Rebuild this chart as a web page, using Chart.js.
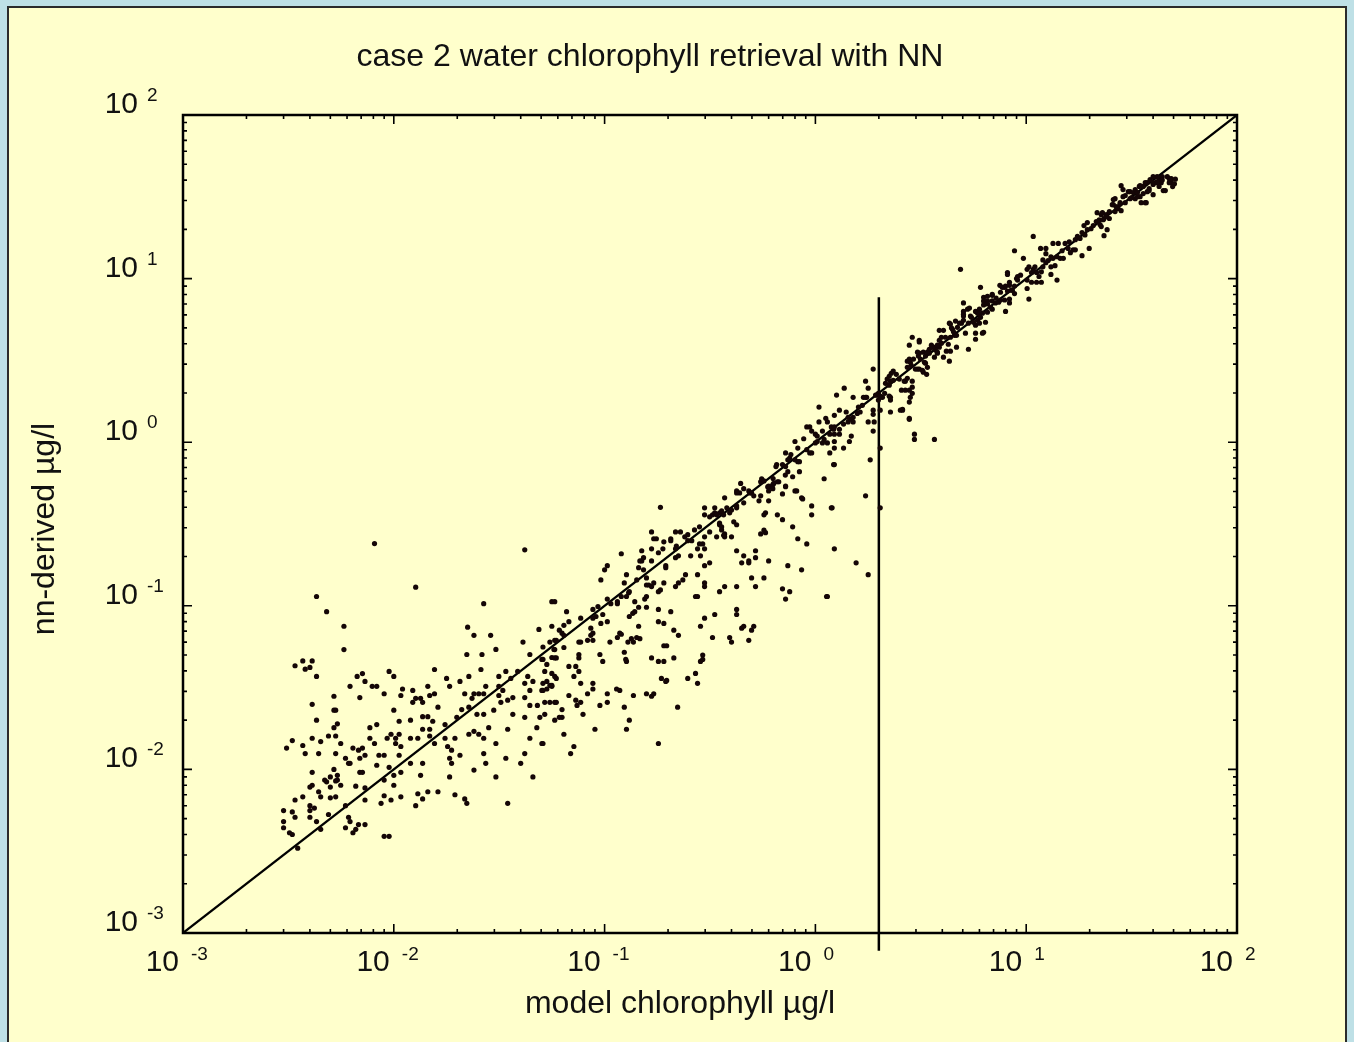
<!DOCTYPE html>
<html>
<head>
<meta charset="utf-8">
<title>case 2 water chlorophyll retrieval with NN</title>
<script src="https://cdn.jsdelivr.net/npm/chart.js@4.4.1/dist/chart.umd.min.js"></script>
<style>
  html, body { margin: 0; padding: 0; background: #bee0e6; overflow: hidden; }
  canvas { display: block; }
</style>
</head>
<body>
<canvas id="chlChart" width="1354" height="1042"></canvas>
<script>
// ---------------------------------------------------------------------
// Axis ticks (both axes are log10, 1e-3 .. 1e2)
// ---------------------------------------------------------------------
const tickValues = [0.001, 0.01, 0.1, 1, 10, 100];
const tickExponents = ["-3", "-2", "-1", "0", "1", "2"];
const minorMultipliers = [2, 3, 4, 5, 6, 7, 8, 9];

// 1:1 line and the vertical marker at 2 µg/l
const oneToOne = [[0.001, 0.001], [100, 100]];
const markerLine = [[2, 0.00078], [2, 7.7]];

// ---------------------------------------------------------------------
// Scatter: [model chlorophyll, nn-derived] in µg/l
// ---------------------------------------------------------------------
const lowRange = [
  [0.0058,0.075],[0.0058,0.054],[0.0034,0.043],[0.0037,0.046],[0.0038,0.041],[0.0040,0.042],[0.0041,0.046],[0.0043,0.037],
  [0.0033,0.015],[0.0031,0.0135],[0.0037,0.014],[0.0038,0.0125],[0.0041,0.0155],[0.0041,0.025],[0.0043,0.020],[0.0044,0.0125],
  [0.0045,0.0148],[0.0049,0.016],[0.0052,0.028],[0.0052,0.023],[0.0053,0.023],[0.0054,0.019],[0.0052,0.018],[0.0053,0.016],
  [0.0056,0.0144],[0.0053,0.0125],[0.0041,0.0096],[0.0041,0.0080],[0.0040,0.0078],[0.0037,0.0068],[0.0034,0.0065],[0.0030,0.0056],
  [0.0033,0.0055],[0.0034,0.0051],[0.0030,0.0048],[0.0030,0.0044],[0.0032,0.0041],[0.0033,0.0040],[0.0035,0.0033],[0.0040,0.0056],
  [0.0040,0.0060],[0.0042,0.0058],[0.0040,0.0051],[0.0043,0.0048],[0.0045,0.0043],[0.0044,0.0073],[0.0045,0.0068],[0.0047,0.0086],
  [0.0048,0.0084],[0.0050,0.0090],[0.0052,0.010],[0.0054,0.0092],[0.0054,0.0086],[0.0056,0.0080],[0.0053,0.0085],[0.0050,0.0078],
  [0.0050,0.0067],[0.0053,0.0068],[0.0049,0.0053],[0.0059,0.0060],[0.0061,0.0051],[0.0062,0.0048],[0.0059,0.0044],[0.0064,0.0041],
  [0.0066,0.0043],[0.0068,0.0046],[0.0073,0.0046],[0.0066,0.0079],[0.0073,0.0077],[0.0069,0.0096],[0.0071,0.0096],[0.0059,0.0117],
  [0.0061,0.0109],[0.0062,0.0109],[0.0064,0.0135],[0.0068,0.0131],[0.0071,0.0135],[0.0073,0.0122],[0.0069,0.0117],[0.0077,0.0155],
  [0.0077,0.018],[0.0081,0.0144],[0.0083,0.0188],[0.0085,0.0122],[0.0090,0.0122],[0.0083,0.0106],[0.0095,0.0103],[0.0093,0.0155],
  [0.0097,0.0164],[0.0102,0.0155],[0.0106,0.0164],[0.0102,0.0144],[0.0108,0.0138],[0.0106,0.0122],[0.0100,0.0092],[0.0100,0.0080],
  [0.0090,0.0086],[0.0073,0.0065],[0.0090,0.0069],[0.0087,0.0062],[0.0097,0.0065],[0.0108,0.0068],[0.0120,0.0109],[0.0108,0.0096],
  [0.0120,0.0155],[0.0130,0.0155],[0.0120,0.020],[0.0106,0.0197],[0.0100,0.023],[0.0137,0.021],[0.0145,0.021],[0.0137,0.0176],
  [0.0148,0.0176],[0.0153,0.0197],[0.0148,0.016],[0.0156,0.0144],[0.0137,0.0109],[0.0134,0.0092],[0.0137,0.0066],[0.0127,0.0060],
  [0.0130,0.0071],[0.0145,0.0073],[0.0162,0.0073],[0.0090,0.0039],[0.0095,0.0039],[0.0175,0.0188],[0.0162,0.024],[0.0175,0.0155],
  [0.018,0.0138],[0.0188,0.0131],[0.0206,0.0122],[0.0184,0.0117],[0.0188,0.0109],[0.0184,0.0090],[0.0195,0.0155],[0.0195,0.0070],
  [0.0217,0.0066],[0.0222,0.0062],[0.024,0.0099],[0.0227,0.0164],[0.024,0.0171],[0.0253,0.0164],[0.0267,0.0155],[0.0282,0.018],
  [0.0273,0.0109],[0.0267,0.0125],[0.0305,0.0144],[0.0305,0.0090],[0.0347,0.0062],[0.034,0.0117],[0.0347,0.0176],[0.0367,0.0217],
  [0.0418,0.0208],[0.040,0.0109],[0.0442,0.0155],[0.0418,0.0125],[0.0457,0.0090],[0.0504,0.0144],[0.0477,0.018],[0.0493,0.0208],
  [0.052,0.0217],[0.058,0.020],[0.0442,0.0246],[0.048,0.0246],[0.052,0.0257],[0.055,0.0257],[0.058,0.0257],[0.0418,0.0275],
  [0.0367,0.0275],[0.0347,0.0265],[0.0315,0.0283],[0.0322,0.0257],[0.0298,0.023],[0.0248,0.0217],[0.0267,0.0217],[0.0227,0.024],
  [0.021,0.0232],[0.0199,0.0208],[0.0315,0.0322],[0.0329,0.0304],[0.034,0.0397],[0.0315,0.037],[0.0359,0.036],[0.0387,0.0397],
  [0.0418,0.0336],[0.0432,0.037],[0.0457,0.0345],[0.0442,0.0304],[0.0504,0.0304],[0.0532,0.0345],[0.0562,0.0322],[0.052,0.0397],
  [0.0504,0.047],[0.0532,0.0438],[0.0562,0.0483],[0.0575,0.0541],[0.055,0.060],[0.0442,0.0504],[0.0259,0.0408],[0.0227,0.037],
  [0.0206,0.0345],[0.0184,0.0322],[0.0178,0.036],[0.0156,0.0408],[0.0145,0.0322],[0.0123,0.0304],[0.0110,0.031],[0.0090,0.029],
  [0.0083,0.0322],[0.0079,0.0322],[0.0073,0.0345],[0.0067,0.037],[0.0071,0.0385],[0.0062,0.0322],[0.0069,0.0275],[0.0095,0.0397],
  [0.0100,0.037],[0.0127,0.0272],[0.0134,0.0272],[0.0123,0.0257],[0.0137,0.0257],[0.0156,0.029],[0.0148,0.0283],[0.0108,0.0283],
  [0.0217,0.029],[0.024,0.029],[0.0253,0.029],[0.0267,0.029],[0.0273,0.0322],[0.0235,0.0272],[0.0288,0.066],[0.0222,0.0504],
  [0.0262,0.0504],[0.0305,0.0541],[0.0224,0.074],[0.024,0.066],[0.041,0.060],[0.0488,0.0717],[0.0562,0.075],
  [0.0081,0.24],[0.0127,0.13],[0.0418,0.22],[0.0043,0.114],[0.0048,0.092],[0.0267,0.103],[0.0562,0.106],[0.058,0.106],
  [0.061,0.071],[0.051,0.056],[0.058,0.054],[0.059,0.048],
  [0.066,0.092],[0.0641,0.076],[0.0628,0.068],[0.0641,0.066],[0.058,0.0615],[0.059,0.0615],[0.0677,0.080],[0.077,0.084],
  [0.088,0.095],[0.093,0.099],[0.088,0.084],[0.091,0.086],[0.086,0.073],[0.088,0.068],[0.096,0.078],[0.098,0.0885],
  [0.086,0.066],[0.083,0.0615],[0.088,0.0615],[0.0755,0.060],[0.077,0.060],[0.0641,0.0556],[0.058,0.048],[0.051,0.047],
  [0.0562,0.0386],[0.058,0.037],[0.059,0.036],[0.051,0.0336],[0.055,0.0326],[0.0562,0.0326],[0.051,0.0304],[0.0532,0.031],
  [0.0677,0.0426],[0.073,0.0426],[0.0755,0.0397],[0.0715,0.037],[0.0755,0.0504],[0.0755,0.048],[0.077,0.0336],[0.083,0.029],
  [0.088,0.0336],[0.088,0.031],[0.095,0.0504],[0.098,0.0457],[0.095,0.0246],[0.0677,0.0283],[0.073,0.0265],[0.074,0.0246],
  [0.077,0.0257],[0.079,0.0217],[0.0628,0.0232],[0.061,0.0208],[0.0628,0.0208],[0.059,0.0257],[0.0641,0.0164],[0.090,0.0176],
  [0.051,0.0144],[0.0715,0.0138],[0.069,0.0125],[0.096,0.144]
];

const midRange = [
  [0.184,0.40],[0.442,0.56],[0.457,0.52],[0.488,0.49],[0.55,0.47],[0.55,0.573],[0.60,0.54],[0.628,0.55],
  [0.67,0.573],[0.722,0.54],[0.698,0.483],[0.80,0.504],[0.815,0.504],[0.86,0.457],[0.96,0.408],[0.96,0.36],
  [1.20,0.397],[1.23,0.223],[1.13,0.114],[0.825,0.257],[0.91,0.239],[0.78,0.304],[0.66,0.36],[0.58,0.37],
  [0.57,0.36],[0.60,0.438],[0.55,0.275],[0.57,0.29],[0.58,0.28],[0.60,0.188],[0.74,0.176],[0.86,0.166],
  [0.698,0.127],[0.722,0.110],[0.755,0.122],[0.57,0.148],[0.52,0.217],[0.52,0.197],[0.483,0.188],[0.483,0.183],
  [0.447,0.183],[0.457,0.202],[0.423,0.217],[0.498,0.148],[0.52,0.131],[0.423,0.131],[0.423,0.095],[0.423,0.0885],
  [0.371,0.131],[0.351,0.122],[0.333,0.0885],[0.298,0.084],[0.285,0.075],[0.325,0.064],[0.392,0.064],[0.40,0.060],
  [0.447,0.073],[0.457,0.075],[0.51,0.075],[0.498,0.071],[0.483,0.0615],[0.298,0.138],[0.298,0.131],[0.276,0.155],
  [0.27,0.114],[0.276,0.114],[0.315,0.183],[0.298,0.176],[0.285,0.202],[0.298,0.223],[0.276,0.223],[0.292,0.239],
  [0.256,0.202],[0.242,0.155],[0.235,0.144],[0.224,0.138],[0.217,0.131],[0.206,0.092],[0.213,0.071],[0.224,0.066],
  [0.213,0.048],[0.191,0.057],[0.197,0.057],[0.18,0.0457],[0.191,0.0457],[0.186,0.036],[0.197,0.035],[0.248,0.036],
  [0.27,0.0386],[0.276,0.0336],[0.285,0.0457],[0.292,0.050],[0.292,0.047],[0.18,0.080],[0.191,0.078],[0.18,0.095],
  [0.167,0.048],[0.158,0.029],[0.167,0.028],[0.171,0.029],[0.145,0.075],[0.137,0.060],[0.142,0.064],[0.147,0.063],
  [0.134,0.063],[0.129,0.060],[0.124,0.052],[0.127,0.0457],[0.126,0.047],[0.118,0.068],[0.115,0.064],[0.120,0.067],
  [0.131,0.086],[0.136,0.090],[0.139,0.092],[0.139,0.106],[0.145,0.098],[0.158,0.098],[0.155,0.110],[0.158,0.114],
  [0.158,0.134],[0.162,0.134],[0.167,0.131],[0.184,0.125],[0.18,0.122],[0.191,0.138],[0.171,0.138],[0.158,0.148],
  [0.153,0.166],[0.124,0.138],[0.127,0.155],[0.130,0.120],[0.131,0.122],[0.127,0.114],[0.120,0.114],[0.115,0.106],
  [0.115,0.103],[0.107,0.103],[0.103,0.110],[0.103,0.080],[0.106,0.060],[0.100,0.166],[0.103,0.176],[0.120,0.208],
  [0.142,0.144],[0.147,0.188],[0.150,0.188],[0.153,0.197],[0.145,0.171],[0.167,0.188],[0.150,0.217],[0.167,0.223],
  [0.18,0.211],[0.189,0.223],[0.191,0.246],[0.171,0.257],[0.176,0.257],[0.167,0.283],[0.195,0.176],[0.195,0.171],
  [0.206,0.25],[0.206,0.257],[0.217,0.197],[0.224,0.202],[0.217,0.223],[0.219,0.232],[0.217,0.283],[0.229,0.283],
  [0.24,0.264],[0.248,0.272],[0.248,0.25],[0.259,0.25],[0.267,0.291],[0.282,0.304],[0.298,0.36],[0.298,0.397],
  [0.298,0.264],[0.315,0.283],[0.315,0.35],[0.325,0.36],[0.333,0.37],[0.333,0.397],[0.351,0.37],[0.359,0.381],
  [0.351,0.313],[0.359,0.291],[0.371,0.275],[0.371,0.264],[0.34,0.264],[0.371,0.457],[0.392,0.37],[0.40,0.385],
  [0.423,0.397],[0.40,0.264],[0.423,0.313],[0.41,0.326],[0.457,0.426],[0.437,0.49],[0.423,0.504],[0.483,0.504],
  [0.498,0.49],[0.103,0.029],[0.114,0.031],[0.118,0.0304],[0.103,0.0257],[0.124,0.024],[0.137,0.0283],[0.127,0.0176],
  [0.131,0.020],[0.222,0.024],[0.195,0.0345],[0.18,0.0144],
  [1.37,2.14],[1.26,1.94],[1.04,1.64],[1.51,1.88],[1.69,1.88],[1.73,1.88],[1.78,2.14],[1.73,2.36],
  [1.82,0.78],[1.73,0.47],[1.78,0.155],[1.56,0.183],[1.14,0.114],[1.10,0.598],[1.22,0.73],[1.36,0.92],
  [1.17,0.86],[1.23,0.92],[1.14,0.99],[1.08,0.99],[1.10,1.04],[1.17,1.12],[1.23,1.12],[1.23,1.01],
  [1.30,1.20],[1.30,1.12],[1.36,1.29],[1.43,1.33],[1.48,1.38],[1.51,1.33],[1.51,1.42],[1.58,1.50],
  [1.60,1.64],[1.63,1.53],[1.67,1.68],[1.40,1.53],[1.43,1.42],[1.30,1.57],[1.23,1.46],[1.14,1.33],
  [1.19,1.24],[1.22,1.20],[1.04,1.33],[1.0,1.12],[1.02,1.09],[0.96,1.17],[0.91,1.24],[0.94,1.24],
  [1.08,1.17],[1.48,1.09],[1.45,1.01],[0.80,1.01],[0.825,0.92],[0.91,0.90],[0.94,0.86],[0.96,0.86],
  [1.0,0.99],[1.02,1.01],[0.722,0.86],[0.755,0.80],[0.74,0.78],[0.765,0.84],[0.80,0.78],[0.825,0.76],
  [0.84,0.76],[0.698,0.73],[0.722,0.71],[0.655,0.73],[0.65,0.71],[0.74,0.66],[0.84,0.66],[0.78,0.615],
  [0.66,0.573],[0.634,0.56],[0.614,0.534],[0.556,0.598],[0.57,0.58],[0.594,0.534],[0.60,0.504],[0.628,0.52],
  [0.722,0.534],[0.87,0.45],[0.698,0.336],[0.423,0.49],[0.51,0.47],[0.54,0.438],[0.423,0.408],[0.367,0.36],
  [0.38,0.397],[0.34,0.36],[0.351,0.32],[0.359,0.304],[0.367,0.27],[0.282,0.239],[1.93,1.94],[1.99,1.99],
  [1.88,2.80],[1.99,1.81],[1.95,1.94],[1.88,1.57],[1.88,1.48],[1.78,1.33],[1.90,1.33],[1.88,1.17],
  [1.75,1.88],[1.19,0.397],[1.23,0.73],[1.23,1.24],[1.12,1.40],[0.88,1.05],[0.72,0.63],[0.63,0.60]
];

const highRange = [
  [2.15,2.29],[2.27,2.36],[2.34,2.39],[2.08,1.88],[2.27,1.88],[2.27,1.81],[2.67,2.36],[2.88,2.36],
  [2.79,2.08],[2.88,1.99],[2.79,1.76],[2.53,1.57],[2.59,1.57],[2.27,1.53],[2.79,1.38],[2.95,1.12],
  [2.95,1.04],[3.67,1.04],[2.03,1.57],[2.03,1.88],[2.03,0.92],[2.03,0.397],[2.03,1.91],
  [9.0,10.0],[9.1,9.8],[7.5,9.1],[7.9,8.85],[8.33,9.1],[8.5,8.5],[8.33,7.5],[7.9,7.4],
  [8.33,7.1],[6.28,7.69],[6.55,7.8],[6.9,7.9],[6.28,7.3],[6.55,7.3],[6.9,7.3],[7.98,6.3],
  [5.04,7.1],[5.04,6.3],[5.04,6.05],[5.27,6.5],[5.44,5.9],[5.75,6.3],[6.0,6.5],[6.2,6.15],
  [5.88,5.56],[6.07,5.8],[6.41,5.41],[5.75,5.19],[6.28,4.7],[5.75,4.26],[5.32,3.7],[4.62,5.5],
  [4.93,5.34],[4.72,5.04],[4.37,5.27],[4.47,4.9],[4.57,4.5],[3.87,4.83],[4.05,4.83],[4.14,4.38],
  [4.37,4.38],[4.67,3.81],[3.96,4.03],[3.87,3.81],[3.71,3.66],[3.79,3.5],[4.27,3.97],[4.37,3.6],
  [4.05,3.31],[4.32,3.13],[3.55,3.92],[3.63,3.81],[3.47,3.7],[2.88,4.38],[2.79,3.92],[3.11,4.2],
  [3.25,3.55],[3.33,3.36],[3.05,3.55],[3.15,3.22],[3.33,3.04],[3.4,2.87],[3.11,2.80],[3.25,2.68],
  [3.37,2.60],[2.79,3.22],[2.85,2.95],[2.73,2.87],[2.73,3.13],[2.64,2.36],[2.73,2.46],[2.88,2.17],
  [2.82,1.88],[2.56,2.08],[2.67,2.08],[2.29,2.64],[2.34,2.72],[2.24,2.53],[2.42,2.60],[2.50,2.43],
  [2.19,2.43],[2.24,2.23],[2.13,1.99],[2.24,1.91],
  [4.52,4.73],[4.67,4.5],[7.7,8.85],[9.1,10.3],[5.04,5.9],[3.47,3.5],[3.79,3.55],[3.08,3.36],
  [3.29,3.08],[3.05,2.80],[3.11,4.1],
  [4.88,11.4],[10.8,18.1],[8.8,14.8],[6.07,8.85],[9.7,13.3],[28.2,37.0],[14.0,9.8],[10.3,7.5],
  [2.59,1.59],[2.79,1.40],[3.22,2.75],[2.98,2.80],[2.82,3.08],[2.92,3.22],[3.11,3.50],[3.4,3.55],
  [3.59,3.81],[3.79,3.92],[3.87,4.20],[3.67,3.31],[4.18,3.60],[3.96,4.38],[4.32,5.34],[4.42,5.0],
  [4.83,5.34],[5.04,5.56],[5.15,4.64],[5.75,4.64],[6.2,4.64],[5.32,5.34],[5.5,5.8],[5.62,5.41],
  [5.38,6.6],[5.88,6.15],[6.28,6.9],[6.0,5.34],[6.55,7.0],[6.77,6.68],[6.55,6.23],[6.9,6.5],
  [7.15,7.1],[7.4,7.17],[7.55,7.4],[7.55,8.25],[6.9,8.0],[8.15,8.4],[8.6,8.5],[8.8,8.1],
  [8.8,9.0],[8.33,9.5],[7.98,9.0],[8.15,10.9],[8.15,10.6],[10.1,11.4],[10.3,11.8],[10.6,10.9],
  [10.8,11.4],[11.2,10.9],[11.5,10.3],[11.8,11.0],[10.6,9.5],[11.2,9.5],[11.8,9.5],[10.1,9.8],
  [10.1,8.7],[12.0,11.8],[12.4,12.5],[12.7,12.9],[13.1,13.6],[11.7,15.3],[12.4,15.3],[12.4,14.2],
  [13.4,16.4],[14.2,16.4],[13.1,11.8],[13.7,12.0],[13.1,10.6],[14.0,13.6],[14.5,13.3],[15.0,13.3],
  [13.4,13.3],[15.3,16.4],[15.8,15.3],[16.2,14.4],[16.7,15.0],[17.1,15.0],[17.1,17.3],[17.5,18.1],
  [18.0,17.6],[18.4,19.1],[18.8,21.1],[19.5,22.0],[18.4,13.8],[19.9,15.3],[19.5,19.9],[20.3,20.2],
  [20.8,21.1],[21.5,22.3],[22.2,22.9],[21.7,25.3],[22.7,24.6],[23.4,23.3],[24.0,24.6],[22.7,20.8],
  [24.2,19.9],[23.4,18.3],[24.8,23.3],[24.8,25.7],[25.9,28.3],[26.7,27.5],[26.4,30.8],[27.9,29.1],
  [28.8,31.7],[27.3,26.8],[28.2,26.0],[29.5,32.2],[31.1,34.0],[32.2,33.6],[32.9,35.0],[34.4,36.6],
  [29.5,29.1],[31.1,30.8],[32.9,30.8],[34.7,31.7],[35.9,33.1],[35.1,29.1],[37.1,29.1],[37.5,34.0],
  [38.3,35.5],[40.0,37.6],[41.4,38.6],[42.7,40.8],[44.2,42.0],[38.7,40.3],[41.8,42.0],[43.7,38.6],
  [44.7,34.5],[47.7,40.8],[48.8,38.6],[46.7,42.0],[35.9,36.6],[33.7,31.7],
  [28.8,35.0],[47.7,38.6],[45.7,34.5],[40.0,42.0],[42.7,36.6],[40.0,32.6],[37.5,38.6],[25.9,30.4],
  [26.4,25.7],[23.2,22.9],[22.4,21.4],[30.5,34.0],[34.7,37.0],[36.7,38.6],
  [40.0,38.6],[48.8,40.8],[41.8,39.0],[36.7,29.1],[38.3,34.5],[27.0,27.5],[27.9,28.6],[25.6,28.3],
  [24.0,24.0],[23.0,25.3],[31.6,31.3],[33.7,33.6],[44.2,40.0],[50.5,38.0],[51.0,40.5],[49.5,36.5],
  [19.0,18.5],[16.0,16.8],[14.8,14.8],[12.0,13.0],[11.0,11.8],[9.4,10.5],[7.2,7.6],[6.0,6.1]
];

// ---------------------------------------------------------------------
// helpers
// ---------------------------------------------------------------------
const FONT = '"Liberation Sans", Arial, sans-serif';
const toXY = p => ({ x: p[0], y: p[1] });

// background panel, axis box, inward ticks and the 10^n labels
const framePlugin = {
    id: "frame",
    beforeDraw(chart) {
        const ctx = chart.ctx;
        ctx.save();
        ctx.fillStyle = "#bee0e6";
        ctx.fillRect(0, 0, chart.width, chart.height);
        ctx.fillStyle = "#ffffcc";
        ctx.fillRect(8, 7, 1338, 1100);
        ctx.strokeStyle = "#2b2b2b";
        ctx.lineWidth = 2;
        ctx.strokeRect(8, 7, 1338, 1100);
        ctx.restore();
    },
    afterDraw(chart) {
        const ctx = chart.ctx;
        const a = chart.chartArea;
        const xs = chart.scales.x, ys = chart.scales.y;
        ctx.save();

        // axis box
        ctx.strokeStyle = "#000";
        ctx.lineWidth = 2.5;
        ctx.strokeRect(a.left, a.top, a.right - a.left, a.bottom - a.top);

        // ticks on all four sides, pointing inwards
        ctx.lineWidth = 1.6;
        ctx.beginPath();
        tickValues.forEach(function (base, i) {
            const mults = i === tickValues.length - 1 ? [1] : [1].concat(minorMultipliers);
            mults.forEach(function (m) {
                const v = base * m;
                const len = m === 1 ? 9 : 4;
                const px = xs.getPixelForValue(v);
                const py = ys.getPixelForValue(v);
                ctx.moveTo(px, a.bottom); ctx.lineTo(px, a.bottom - len);
                ctx.moveTo(px, a.top); ctx.lineTo(px, a.top + len);
                ctx.moveTo(a.left, py); ctx.lineTo(a.left + len, py);
                ctx.moveTo(a.right, py); ctx.lineTo(a.right - len, py);
            });
        });
        ctx.stroke();

        // tick labels "10" with superscript exponent
        ctx.fillStyle = "#111";
        ctx.textBaseline = "alphabetic";
        tickValues.forEach(function (v, i) {
            const px = xs.getPixelForValue(v);
            const py = ys.getPixelForValue(v);

            ctx.font = "30px " + FONT;
            ctx.textAlign = "right";
            ctx.fillText("10", px - 4, 971);
            ctx.fillText("10", 138, py - 2);

            ctx.font = "19px " + FONT;
            ctx.textAlign = "left";
            ctx.fillText(tickExponents[i], px + 8, 960);
            ctx.fillText(tickExponents[i], 147, py - 14);
        });

        // titles
        ctx.font = "32px " + FONT;
        ctx.textAlign = "center";
        ctx.fillText("case 2 water chlorophyll retrieval with NN", 650, 66);
        ctx.fillText("model chlorophyll µg/l", 680, 1013);
        ctx.translate(54, 529);
        ctx.rotate(-Math.PI / 2);
        ctx.fillText("nn-derived µg/l", 0, 0);

        ctx.restore();
    }
};

// ---------------------------------------------------------------------
// chart
// ---------------------------------------------------------------------
const scatterPoints = lowRange.concat(midRange, highRange).map(toXY);

new Chart(document.getElementById("chlChart"), {
    type: "scatter",
    data: {
        datasets: [
            {
                label: "NN retrieval",
                data: scatterPoints,
                pointRadius: 2.6,
                pointBackgroundColor: "#140606",
                pointBorderWidth: 0,
                pointHoverRadius: 2.6
            },
            {
                label: "1:1",
                data: oneToOne.map(toXY),
                showLine: true,
                borderColor: "#000",
                borderWidth: 2.2,
                pointRadius: 0
            },
            {
                label: "marker",
                data: markerLine.map(toXY),
                showLine: true,
                borderColor: "#000",
                borderWidth: 2.5,
                pointRadius: 0,
                clip: false
            }
        ]
    },
    options: {
        responsive: false,
        animation: false,
        devicePixelRatio: 1,
        events: [],
        layout: { padding: { left: 183, right: 117, top: 115, bottom: 109 } },
        scales: {
            x: { type: "logarithmic", min: 0.001, max: 100, display: false },
            y: { type: "logarithmic", min: 0.001, max: 100, display: false }
        },
        plugins: {
            legend: { display: false },
            tooltip: { enabled: false }
        }
    },
    plugins: [framePlugin]
});
</script>
</body>
</html>
